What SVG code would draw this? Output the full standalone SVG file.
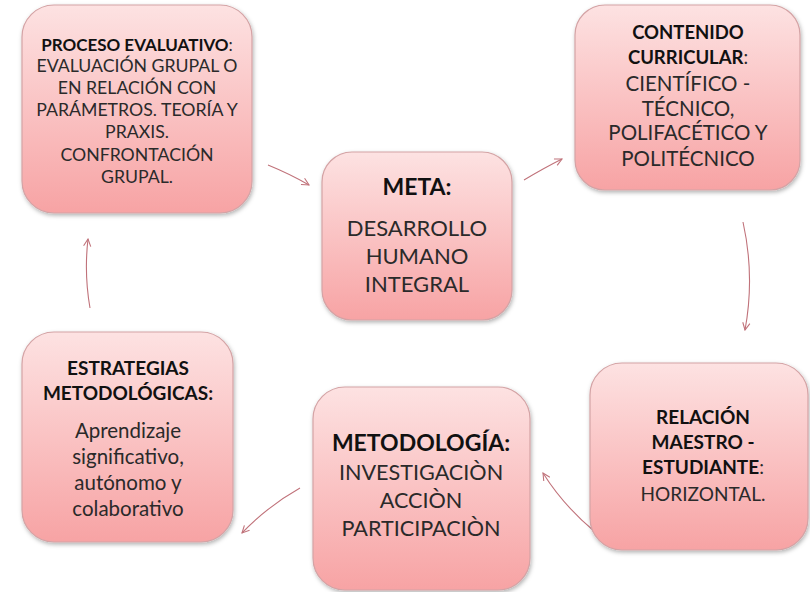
<svg xmlns="http://www.w3.org/2000/svg" width="810" height="592" viewBox="0 0 810 592">
<defs>
<linearGradient id="g" x1="0" y1="0" x2="0" y2="1">
<stop offset="0" stop-color="#fde2e2"/>
<stop offset="1" stop-color="#f7a3a4"/>
</linearGradient>
<filter id="sh" x="-10%" y="-10%" width="125%" height="125%">
<feDropShadow dx="1" dy="2" stdDeviation="2" flood-color="#000" flood-opacity="0.3"/>
</filter>
<marker id="ah" viewBox="0 0 10 10" refX="9" refY="5" markerWidth="9" markerHeight="9" markerUnits="userSpaceOnUse" orient="auto">
<path d="M1,1 L9,5 L1,9" fill="none" stroke="#c0727a" stroke-width="1.2"/>
</marker>
<style>
.box{fill:url(#g);stroke:#d4a3a5;stroke-width:1.2;filter:url(#sh)}
text{font-family:Lato,"Open Sans","Liberation Sans",sans-serif;fill:#262626;text-anchor:middle}
.b{font-weight:bold;fill:#111}
.r{font-weight:normal;fill:#2a2a2a}
.conn path{fill:none;stroke:#c0727a;stroke-width:1.1;marker-end:url(#ah)}
</style>
</defs>
<rect width="810" height="592" fill="#fff"/>
<g class="conn" id="connectors">
<path d="M268,165 Q290,174 309,185"/>
<path d="M524,180 Q544,168 562,159"/>
<path d="M743,222 Q755,276 745,330"/>
<path d="M594,531 Q563,505 543,473"/>
<path d="M300,488 Q268,506 242,533"/>
<path d="M90,308 Q84,274 88,239"/>
</g>
<g id="proceso">
<rect class="box" x="22" y="5" width="230" height="208" rx="32"/>
<text x="137" y="51" font-size="17"><tspan class="b">PROCESO EVALUATIVO</tspan><tspan class="r">:</tspan></text>
<text class="r" x="137" font-size="17.7"><tspan x="137" y="72">EVALUACIÓN GRUPAL O</tspan><tspan x="137" y="94">EN RELACIÓN CON</tspan><tspan x="137" y="116">PARÁMETROS. TEORÍA Y</tspan><tspan x="137" y="138">PRAXIS.</tspan><tspan x="137" y="161">CONFRONTACIÓN</tspan><tspan x="137" y="183">GRUPAL.</tspan></text>
</g>
<g id="contenido">
<rect class="box" x="575" y="5" width="225" height="185" rx="30"/>
<text class="b" x="688" y="39" font-size="18.5">CONTENIDO</text>
<text x="688" y="64" font-size="18.5"><tspan class="b">CURRICULAR</tspan><tspan class="r">:</tspan></text>
<text class="r" font-size="20.5"><tspan x="688" y="91">CIENTÍFICO -</tspan><tspan x="688" y="116">TÉCNICO,</tspan><tspan x="688" y="140">POLIFACÉTICO Y</tspan><tspan x="688" y="166">POLITÉCNICO</tspan></text>
</g>
<g id="meta">
<rect class="box" x="322" y="152" width="190" height="168" rx="30"/>
<text class="b" x="417" y="195" font-size="23">META:</text>
<text class="r" font-size="22"><tspan x="417" y="236">DESARROLLO</tspan><tspan x="417" y="264">HUMANO</tspan><tspan x="417" y="292">INTEGRAL</tspan></text>
</g>
<g id="estrategias">
<rect class="box" x="22" y="332" width="211" height="210" rx="32"/>
<text class="b" font-size="19"><tspan x="128" y="375">ESTRATEGIAS</tspan><tspan x="128" y="400">METODOLÓGICAS:</tspan></text>
<text class="r" font-size="20.5"><tspan x="128" y="438">Aprendizaje</tspan><tspan x="128" y="464">significativo,</tspan><tspan x="128" y="490">autónomo y</tspan><tspan x="128" y="516">colaborativo</tspan></text>
</g>
<g id="metodologia">
<rect class="box" x="313" y="387" width="217" height="203" rx="32"/>
<text class="b" x="421" y="451" font-size="23">METODOLOGÍA:</text>
<text class="r" font-size="21.6"><tspan x="421" y="480">INVESTIGACIÒN</tspan><tspan x="421" y="508">ACCIÒN</tspan><tspan x="421" y="536">PARTICIPACIÒN</tspan></text>
</g>
<g id="relacion">
<rect class="box" x="590" y="363" width="218" height="187" rx="32"/>
<text class="b" font-size="19"><tspan x="703" y="424">RELACIÓN</tspan><tspan x="703" y="449">MAESTRO -</tspan></text>
<text x="703" y="474" font-size="19"><tspan class="b">ESTUDIANTE</tspan><tspan class="r">:</tspan></text>
<text class="r" x="703" y="501" font-size="19">HORIZONTAL.</text>
</g>
</svg>
